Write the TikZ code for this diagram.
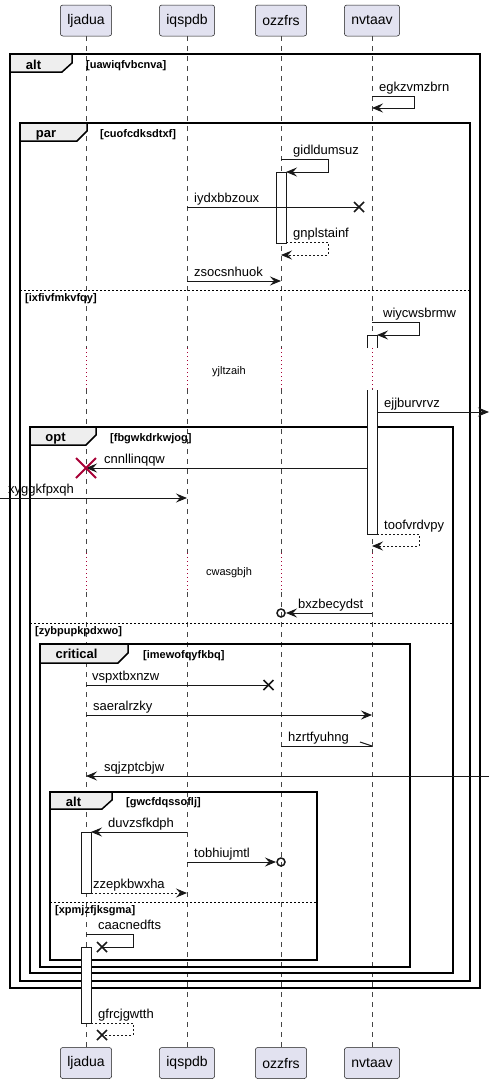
\documentclass[tikz,border=0pt]{standalone}
\usepackage{fontspec}
\setmainfont{Liberation Sans}
\usepackage{xcolor}
\usepackage{tikz}
\usetikzlibrary{arrows.meta,calc}
\definecolor{partfill}{HTML}{E2E2F0}
\definecolor{partline}{HTML}{181818}
\definecolor{tabfill}{HTML}{EEEEEE}
\definecolor{delayred}{HTML}{A80036}
\tikzset{
    head/.tip={Stealth[length=11pt,width=9pt,inset=4pt]},
    part/.style={draw=partline, fill=partfill, line width=0.5pt, rounded corners=2.5pt, inner xsep=7pt, minimum height=31pt, font=\fontsize{14}{16}\selectfont},
    life/.style={draw=partline!80, line width=0.5pt, dash pattern=on 5pt off 5pt},
    delayline/.style={draw=delayred, line width=1pt, dash pattern=on 1pt off 3pt},
    msg/.style={anchor=base west, inner sep=0pt, font=\fontsize{13}{15}\selectfont},
    arr/.style={draw=partline, line width=1pt, -head},
    ret/.style={draw=partline, line width=1pt, -head, dash pattern=on 2pt off 2pt},
    plain/.style={draw=partline, line width=1pt},
    crossx/.style={draw=partline, line width=1.5pt},
    frame/.style={draw=black, line width=1.5pt},
    tab/.style={draw=black, line width=1.5pt, fill=tabfill},
    framelabel/.style={anchor=base, inner sep=0pt, font=\bfseries\fontsize{13}{15}\selectfont},
    guard/.style={anchor=base west, inner sep=0pt, font=\bfseries\fontsize{11}{13}\selectfont},
    sep/.style={draw=black, line width=1pt, dash pattern=on 2pt off 2pt},
    activ/.style={draw=partline, fill=white, line width=1pt},
    delaytext/.style={anchor=base, inner sep=0pt, font=\fontsize{11}{13}\selectfont}
}
\begin{document}
\begin{tikzpicture}[x=1pt,y=-1pt]
\useasboundingbox (0,0) rectangle (494,1084);

%participants
\node[part] (tlj) at (86,20.5) {ljadua};
\node[part] (tiq) at (187,20.5) {iqspdb};
\node[part] (toz) at (281,20.5) {ozzfrs};
\node[part] (tnv) at (372,20.5) {nvtaav};
\node[part] (blj) at (86,1063) {ljadua};
\node[part] (biq) at (187,1063) {iqspdb};
\node[part] (boz) at (281,1063) {ozzfrs};
\node[part] (bnv) at (372,1063) {nvtaav};

%lifelines with the two delays
\coordinate (d1a) at (0,348);
\coordinate (d1b) at (0,389);
\coordinate (d2a) at (0,553);
\coordinate (d2b) at (0,592);
\foreach \p in {lj,iq,oz,nv}{
  \draw[life] (t\p.south) -- (t\p.south |- d1a);
  \draw[delayline] (t\p.south |- d1a) -- (t\p.south |- d1b);
  \draw[life] (t\p.south |- d1b) -- (t\p.south |- d2a);
  \draw[delayline] (t\p.south |- d2a) -- (t\p.south |- d2b);
  \draw[life] (t\p.south |- d2b) -- (b\p.north);
}
\node[delaytext] (dly1) at (229,374) {yjltzaih};
\node[delaytext] (dly2) at (229,575) {cwasgbjh};

%frames
\draw[frame] (10,54) rectangle (480,988);
\draw[tab] (10,54) -- (72,54) -- (72,63) -- (62,72) -- (10,72) -- cycle;
\node[framelabel] at (33.5,69) {alt};
\node[guard] at (86,68) {[uawiqfvbcnva]};

\draw[frame] (20,123) rectangle (470,981);
\draw[tab] (20,123) -- (87,123) -- (87,131) -- (77,141) -- (20,141) -- cycle;
\node[framelabel] at (46,137) {par};
\node[guard] at (100,137) {[cuofcdksdtxf]};
\draw[sep] (20,290) -- (470,290);
\node[guard] at (25,301) {[ixfivfmkvfqy]};

\draw[frame] (30,427) rectangle (453,973);
\draw[tab] (30,427) -- (96,427) -- (96,435) -- (86,445) -- (30,445) -- cycle;
\node[framelabel] at (55.5,441) {opt};
\node[guard] at (110,441) {[fbgwkdrkwjog]};
\draw[sep] (30,623) -- (453,623);
\node[guard] at (35,634) {[zybpupkpdxwo]};

\draw[frame] (40,644) rectangle (410,967);
\draw[tab] (40,644) -- (128,644) -- (128,653) -- (118,663) -- (40,663) -- cycle;
\node[framelabel] at (76.5,658) {critical};
\node[guard] at (143,658) {[imewofqyfkbq]};

\draw[frame] (50,792) rectangle (317,960);
\draw[tab] (50,792) -- (112,792) -- (112,800) -- (102,809) -- (50,809) -- cycle;
\node[framelabel] at (73.5,806) {alt};
\node[guard] at (126,805) {[gwcfdqssoflj]};
\draw[sep] (50,902) -- (317,902);
\node[guard] at (55,913) {[xpmjzfjksgma]};

%activations
\draw[activ] (276,172) rectangle (286,243);
\fill[white] (367,335) rectangle (377,348);
\draw[activ] (367,348) -- (367,335) -- (377,335) -- (377,348);
\draw[activ] (367,390) -- (367,534) -- (377,534) -- (377,390);
\draw[activ] (81,832) rectangle (91,893);
\draw[activ] (81,947) rectangle (91,1023);

%first alt, par
\coordinate (m1a) at (372,96);
\coordinate (m1b) at (372,108);
\draw[arr] (m1a) -- ++(42,0) |- (m1b);
\node[msg] (l1) at (379,91) {egkzvmzbrn};

\coordinate (m2a) at (281,159);
\coordinate (m2b) at (286,172);
\draw[arr] (m2a) -- ++(47,0) |- (m2b);
\node[msg] (l2) at (293,154) {gidldumsuz};

\coordinate (m3a) at (187,207);
\coordinate (m3b) at (359,207);
\draw[plain] (m3a) -- (m3b);
\draw[crossx] (m3b) ++(-5,-5) -- ++(10,10) ++(0,-10) -- ++(-10,10);
\node[msg] (l3) at (194,202) {iydxbbzoux};

\coordinate (m4a) at (286,242);
\coordinate (m4b) at (281,255);
\draw[ret] (m4a) -- ++(42,0) |- (m4b);
\node[msg] (l4) at (293,237) {gnplstainf};

\coordinate (m5a) at (187,281);
\coordinate (m5b) at (281,281);
\draw[arr] (m5a) -- (m5b);
\node[msg] (l5) at (194,276) {zsocsnhuok};

%second part of par
\coordinate (m6a) at (372,322);
\coordinate (m6b) at (377,335);
\draw[arr] (m6a) -- ++(47,0) |- (m6b);
\node[msg] (l6) at (383,317) {wiycwsbrmw};

\coordinate (m7a) at (377,412);
\coordinate (m7b) at (489,412);
\draw[arr] (m7a) -- (m7b);
\node[msg] (l7) at (384,407) {ejjburvrvz};

%opt
\coordinate (m8a) at (367,468);
\coordinate (m8b) at (86,468);
\draw[arr] (m8a) -- (m8b);
\draw[draw=delayred, line width=2pt] (m8b) ++(-10,-10) -- ++(20,20) ++(0,-20) -- ++(-20,20);
\node[msg] (l8) at (104,463) {cnnllinqqw};

\coordinate (m9a) at (0,498);
\coordinate (m9b) at (187,498);
\draw[arr] (m9a) -- (m9b);
\node[msg] (l9) at (8,493) {xyggkfpxqh};

\coordinate (m10a) at (377,534);
\coordinate (m10b) at (372,546);
\draw[ret] (m10a) -- ++(42,0) |- (m10b);
\node[msg] (l10) at (384,529) {toofvrdvpy};

\coordinate (m11a) at (372,613);
\coordinate (m11b) at (286,613);
\coordinate (o11) at (281,613);
\draw[arr] (m11a) -- (m11b);
\draw[draw=partline, line width=1.5pt] (o11) circle (4);
\node[msg] (l11) at (298,608) {bxzbecydst};

%critical
\coordinate (m12a) at (86,685);
\coordinate (m12b) at (268.5,685);
\draw[plain] (m12a) -- (m12b);
\draw[crossx] (m12b) ++(-5,-5) -- ++(10,10) ++(0,-10) -- ++(-10,10);
\node[msg] (l12) at (92,680) {vspxtbxnzw};

\coordinate (m13a) at (86,715);
\coordinate (m13b) at (372,715);
\draw[arr] (m13a) -- (m13b);
\node[msg] (l13) at (93,710) {saeralrzky};

\coordinate (m14a) at (281,746);
\coordinate (m14b) at (372,746);
\draw[plain] (m14a) -- (m14b);
\draw[plain] (m14b) -- ++(-12,-4);
\node[msg] (l14) at (288,741) {hzrtfyuhng};

\coordinate (m15a) at (489,776);
\coordinate (m15b) at (86,776);
\draw[arr] (m15a) -- (m15b);
\node[msg] (l15) at (104,771) {sqjzptcbjw};

%inner alt
\coordinate (m16a) at (187,832);
\coordinate (m16b) at (91,832);
\draw[arr] (m16a) -- (m16b);
\node[msg] (l16) at (108,827) {duvzsfkdph};

\coordinate (m17a) at (187,862);
\coordinate (m17b) at (276,862);
\coordinate (o17) at (281,862);
\draw[arr] (m17a) -- (m17b);
\draw[draw=partline, line width=1.5pt] (o17) circle (4);
\node[msg] (l17) at (194,857) {tobhiujmtl};

\coordinate (m18a) at (91,893);
\coordinate (m18b) at (187,893);
\draw[ret] (m18a) -- (m18b);
\node[msg] (l18) at (93,888) {zzepkbwxha};

\coordinate (m19a) at (86,934);
\coordinate (m19b) at (102,947);
\draw[plain] (m19a) -- ++(47,0) |- (m19b);
\draw[crossx] (m19b) ++(-5,-5) -- ++(10,10) ++(0,-10) -- ++(-10,10);
\node[msg] (l19) at (98,929) {caacnedfts};

%after the frames
\coordinate (m20a) at (91,1023);
\coordinate (m20b) at (102,1035);
\draw[plain, dash pattern=on 2pt off 2pt] (m20a) -- ++(42,0) |- (m20b);
\draw[crossx] (m20b) ++(-5,-5) -- ++(10,10) ++(0,-10) -- ++(-10,10);
\node[msg] (l20) at (98,1018) {gfrcjgwtth};
\end{tikzpicture}
\end{document}
